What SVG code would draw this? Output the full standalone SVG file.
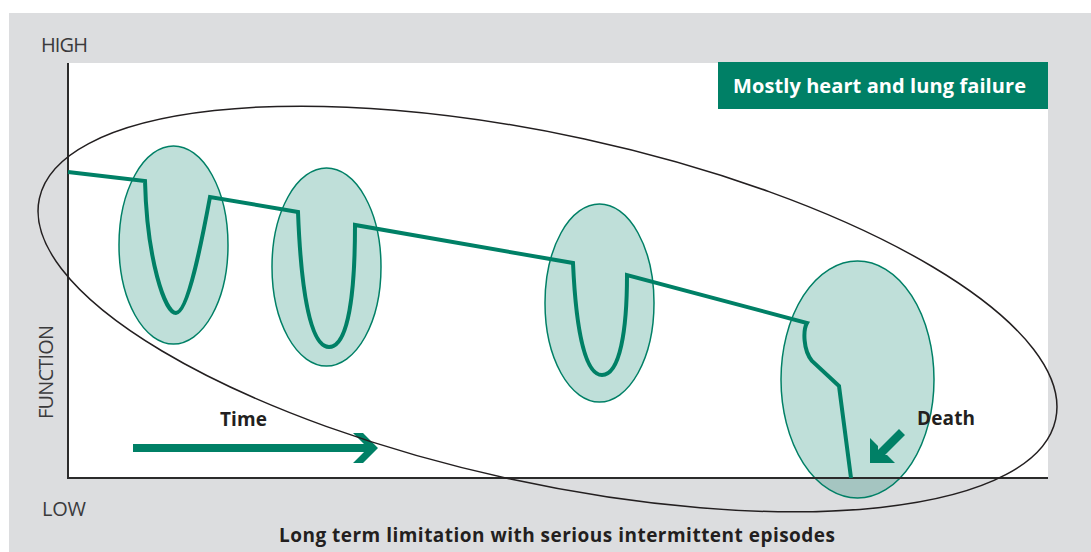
<svg xmlns="http://www.w3.org/2000/svg" width="1091" height="552" viewBox="0 0 1091 552">
  <style>
    .lbl { font-family: "Open Sans", "Liberation Sans", sans-serif; font-size: 20px; fill: #3a3a3c; }
    .bold { font-family: "Open Sans", "Liberation Sans", sans-serif; font-weight: bold; fill: #231f20; }
    .epi { fill: #008066; fill-opacity: 0.25; stroke: #008066; stroke-width: 1.5; }
    .traj { fill: none; stroke: #008066; stroke-width: 4; stroke-linejoin: miter; }
    .axis { stroke: #2b2b2b; stroke-width: 2; fill: none; }
  </style>
  <rect x="0" y="0" width="1091" height="552" fill="#ffffff"/>
  <rect x="9" y="13" width="1082" height="539" fill="#dcdddf"/>
  <rect x="69" y="63" width="979" height="415" fill="#ffffff"/>

  <g id="title-box">
    <rect x="718" y="62" width="330" height="47" fill="#008066"/>
    <text x="733" y="93" class="bold" font-size="20" fill="#ffffff" style="fill:#ffffff" textLength="293">Mostly heart and lung failure</text>
  </g>

  <g id="episode-1"><ellipse class="epi" cx="173.5" cy="245" rx="54.5" ry="99"/></g>
  <g id="episode-2"><ellipse class="epi" cx="326.5" cy="267" rx="54.5" ry="99"/></g>
  <g id="episode-3"><ellipse class="epi" cx="599.5" cy="303" rx="54.5" ry="99"/></g>
  <g id="episode-death"><ellipse class="epi" cx="857.5" cy="379.5" rx="76.5" ry="118.5"/></g>

  <g id="axes">
    <line class="axis" x1="68" y1="63" x2="68" y2="479"/>
    <line class="axis" x1="67" y1="478" x2="1048" y2="478"/>
  </g>

  <g id="connectors">
    <path class="traj" d="M68,172 L145,181 C147,260 165,313 176,313 C188,313 202,240 210,197 L298,212 C301,290 310,347 329,347 C349,347 355,290 355,225 L573,263 C576,330 585,375 602,375 C620,375 627,330 627,275 L807,323 C803,330 803,350 812,361 L839,386 L851,478"/>
    <g id="time-arrow" fill="#008066">
      <rect x="133" y="444" width="238" height="8"/>
      <polygon points="353,433 363,433 378,448 363,463 353,463 368,448"/>
    </g>
    <g id="death-arrow" fill="#008066">
      <polygon points="870,463 870,438 878,446 878,450 899,429 905,435 885,455 887,455 895,463"/>
    </g>
  </g>

  <g id="limitation-ellipse">
    <ellipse cx="547.5" cy="309" rx="520" ry="174" transform="rotate(12.28 547.5 309)" fill="none" stroke="#231f20" stroke-width="1.5"/>
  </g>

  <g id="labels">
    <text class="lbl" x="41" y="52" textLength="47">HIGH</text>
    <text class="lbl" x="42" y="516" textLength="44">LOW</text>
    <text class="lbl" transform="translate(53,419) rotate(-90)" x="0" y="0" textLength="94">FUNCTION</text>
    <text class="bold" x="220" y="426" font-size="19" textLength="47">Time</text>
    <text class="bold" x="917" y="425" font-size="19" textLength="58">Death</text>
    <text class="bold" x="279" y="542" font-size="19" textLength="556">Long term limitation with serious intermittent episodes</text>
  </g>
</svg>
